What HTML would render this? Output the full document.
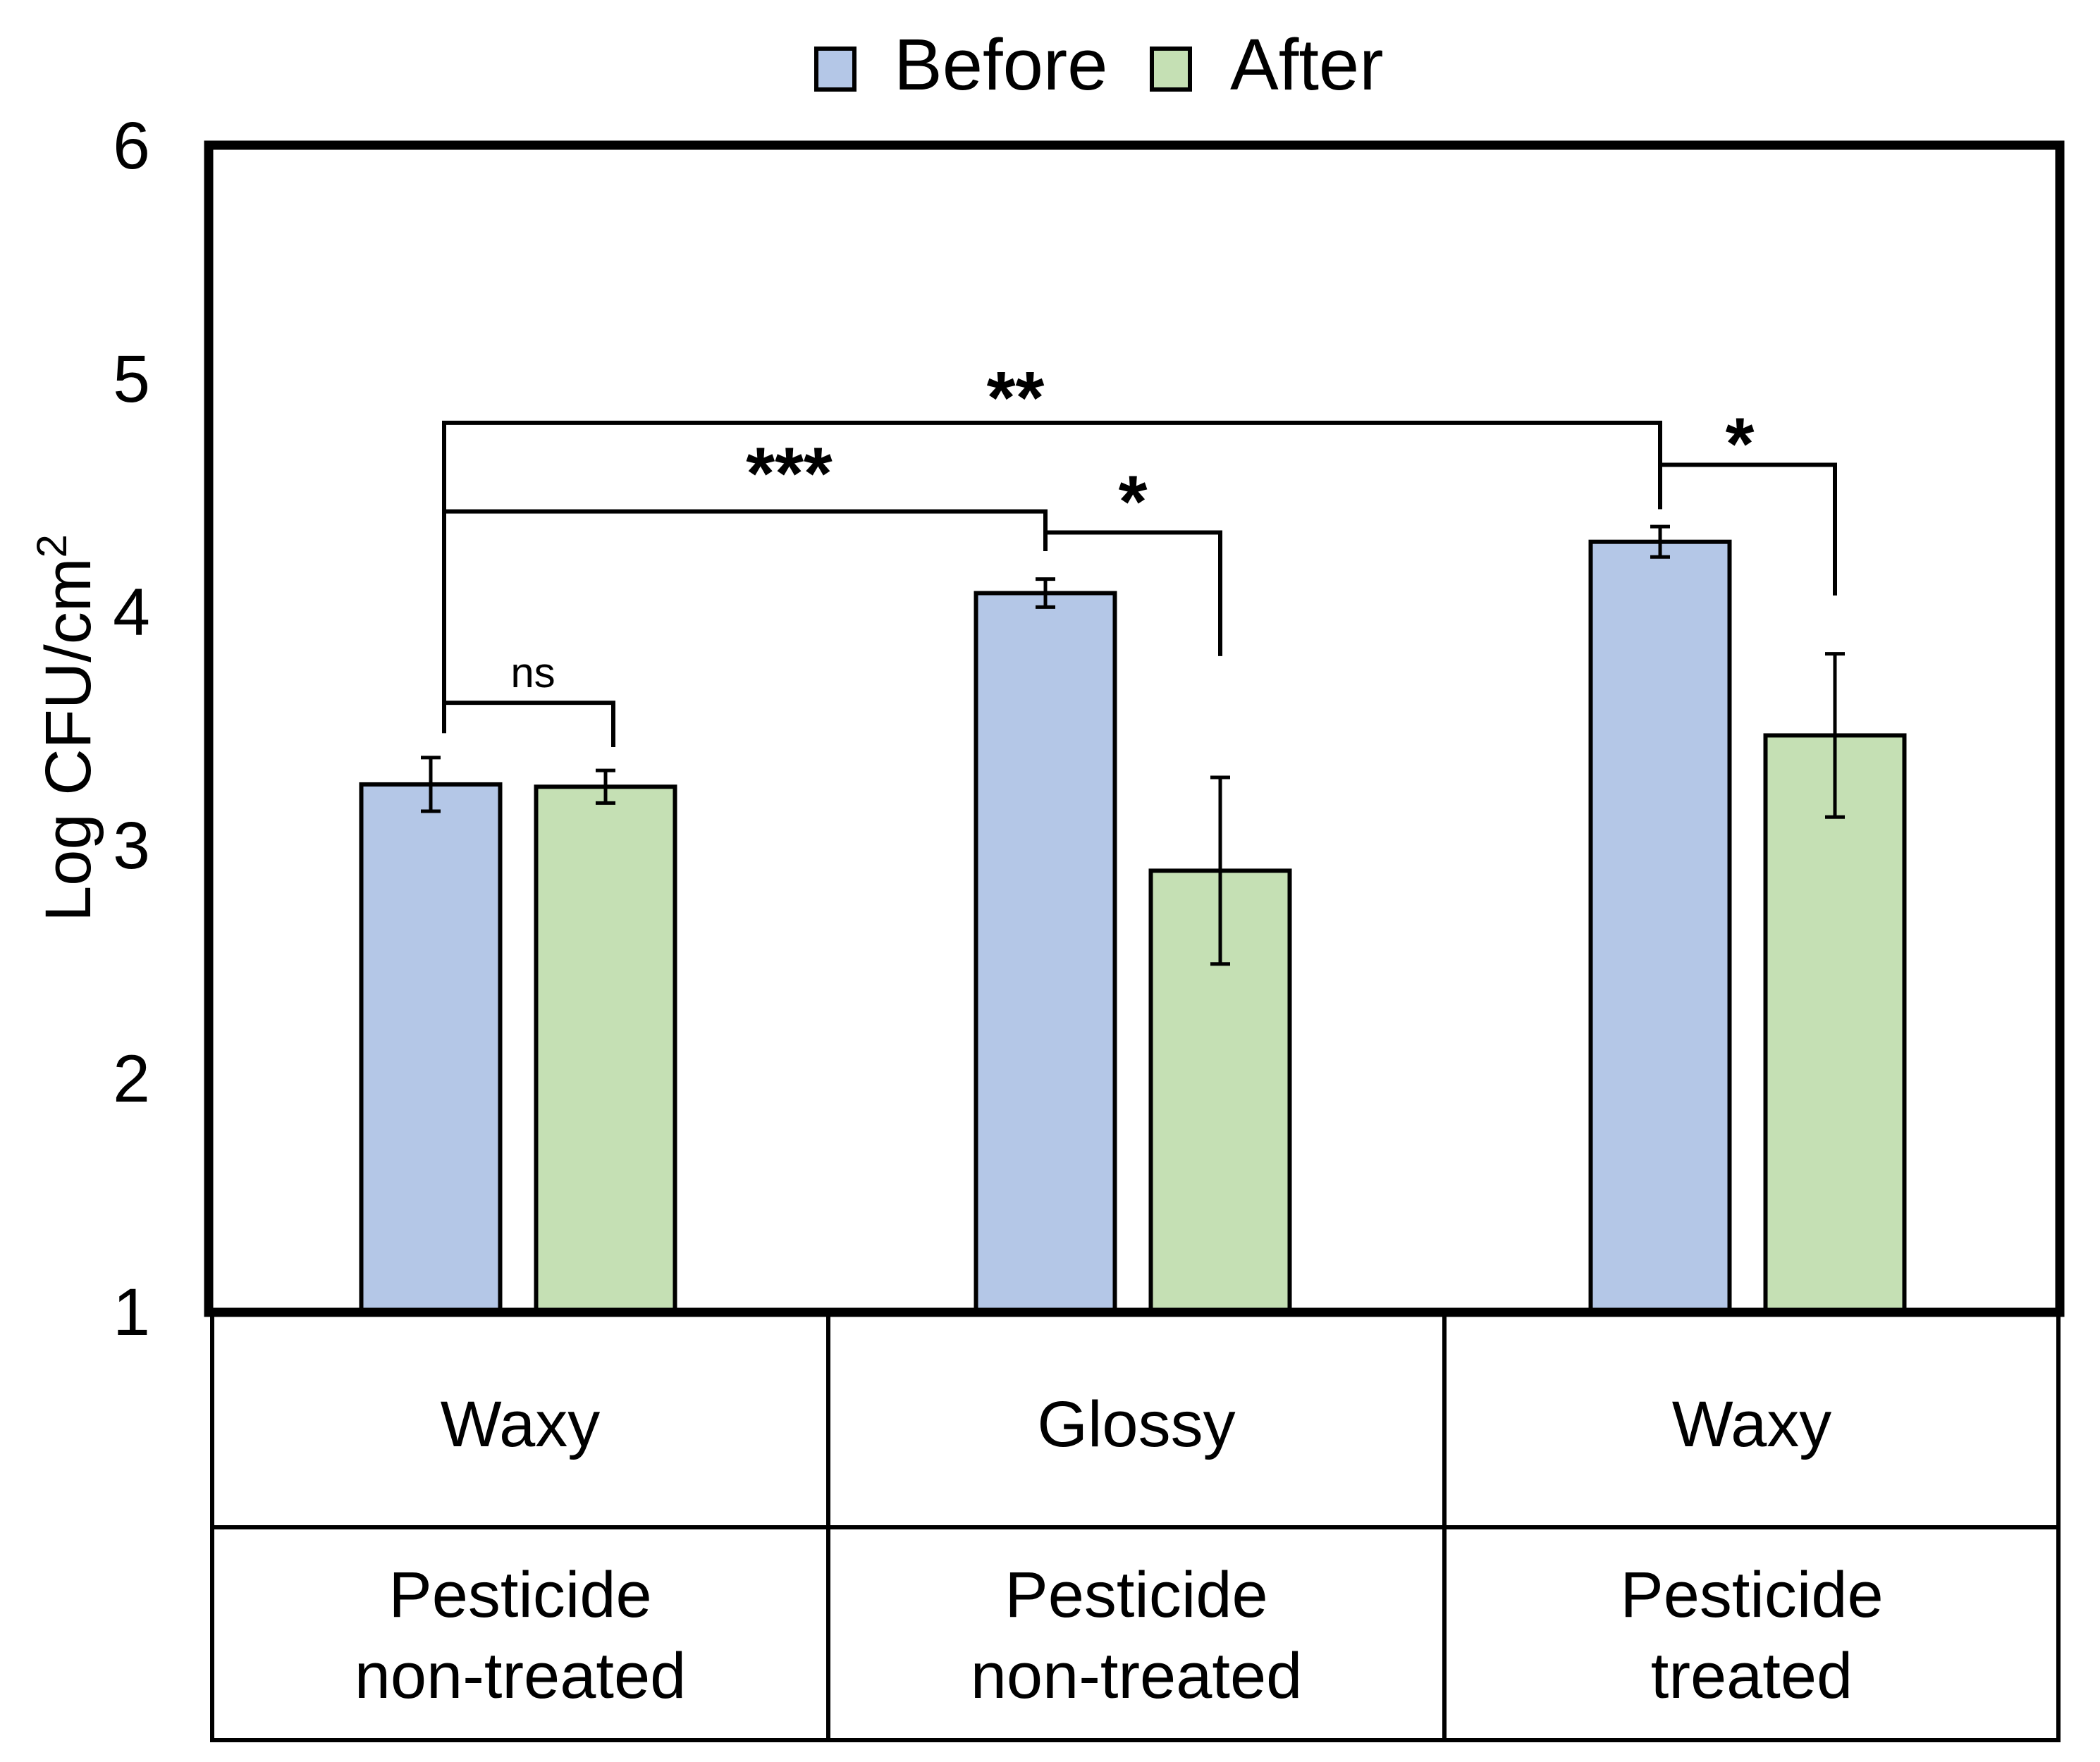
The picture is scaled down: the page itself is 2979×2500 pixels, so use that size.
<!DOCTYPE html>
<html><head><meta charset="utf-8"><style>
html,body{margin:0;padding:0;background:#fff;}
svg{display:block;font-family:"Liberation Sans",Arial,sans-serif;}
</style></head><body>
<svg id="chart" width="2979" height="2500" viewBox="0 0 2979 2500" xmlns="http://www.w3.org/2000/svg">
<g id="legend">
  <rect x="1158" y="69" width="54" height="58" fill="#b4c7e7" stroke="#000" stroke-width="6"/>
  <text x="1268" y="127" font-size="103">Before</text>
  <rect x="1634" y="69" width="54" height="58" fill="#c5e0b4" stroke="#000" stroke-width="6"/>
  <text x="1745" y="127" font-size="103">After</text>
</g>
<text transform="translate(128,1033) rotate(-90)" text-anchor="middle" font-size="92">Log CFU/cm<tspan font-size="60" dy="-34">2</tspan></text>
<g id="yticks"></g>
<g id="bars"></g>
<g id="sig"></g>
<rect x="296" y="206" width="2626" height="1656" fill="none" stroke="#000" stroke-width="13"/>
<g id="table" stroke="#000" stroke-width="6" fill="none">
  <line x1="301" y1="1862" x2="301" y2="2469"/>
  <line x1="1175" y1="1862" x2="1175" y2="2469"/>
  <line x1="2049" y1="1862" x2="2049" y2="2469"/>
  <line x1="2920" y1="1862" x2="2920" y2="2469"/>
  <line x1="301" y1="2167" x2="2920" y2="2167"/>
  <line x1="298" y1="2469" x2="2923" y2="2469"/>
</g>
<g id="tabletext" font-size="92" text-anchor="middle"></g>
</svg>
<script>
const categories = ["Waxy", "Glossy", "Waxy"];
const treatments = [["Pesticide", "non-treated"], ["Pesticide", "non-treated"], ["Pesticide", "treated"]];
const beforeValues = [3.26, 4.08, 4.30];
const afterValues = [3.25, 2.89, 3.47];
const beforeErr = [0.115, 0.06, 0.065];
const afterErr = [0.07, 0.40, 0.35];
const yTicks = [1, 2, 3, 4, 5, 6];
const yTickLabels = ["1", "2", "3", "4", "5", "6"];
const bracketLevels = [4.81, 4.43, 4.34, 4.63, 3.61];
const bracketLabels = ["**", "***", "*", "*", "ns"];

const SVGNS = "http://www.w3.org/2000/svg";
const Y0 = 1861, PX = 331;
function yScale(v){ return Y0 - (v - 1) * PX; }
const GX0 = 735, GSTEP = 876 - 4, BW = 197, OFF = 124;
function groupX(i){ return GX0 + i * GSTEP; }
function barX(i, s){ return groupX(i) + (s === 0 ? -OFF : OFF); }
function mk(tag, attrs, parent){ const e = document.createElementNS(SVGNS, tag); for (const k in attrs) e.setAttribute(k, attrs[k]); parent.appendChild(e); return e; }

const yt = document.getElementById("yticks");
yTicks.forEach((t, i) => {
  const e = mk("text", {x: 213, y: yScale(t) + 33, "text-anchor": "end", "font-size": 95}, yt);
  e.textContent = yTickLabels[i];
  
  
});

const barsG = document.getElementById("bars");
[[beforeValues, beforeErr, "#b4c7e7"], [afterValues, afterErr, "#c5e0b4"]].forEach(([vals, errs, col], s) => {
  vals.forEach((v, i) => {
    const cx = barX(i, s);
    const r = mk("rect", {x: cx - BW/2, y: yScale(v), width: BW, height: yScale(1) - yScale(v), fill: col, stroke: "#000", "stroke-width": 6}, barsG);
    
    
    const hi = yScale(v + errs[i]), lo = yScale(v - errs[i]);
    const g = mk("g", {stroke: "#000", "stroke-width": 5}, barsG);
    
    
    mk("line", {x1: cx, y1: hi, x2: cx, y2: lo}, g);
    mk("line", {x1: cx - 14, y1: hi, x2: cx + 14, y2: hi}, g);
    mk("line", {x1: cx - 14, y1: lo, x2: cx + 14, y2: lo}, g);
  });
});

const sigG = document.getElementById("sig");
// [fromGroup, fromSeries, toGroup, toSeries, levelIndex, leftLegEnd, rightLegEnd, labelDx, labelDy]
const brackets = [
  [0, 0, 2, 0, 0, 3.48, 4.44, -52, 0],
  [0, 0, 1, 0, 1, 3.48, 4.26, 63, -18],
  [1, 0, 1, 1, 2, 4.26, 3.81, 0, -8],
  [2, 0, 2, 1, 3, 4.44, 4.07, -11, 6],
  [0, 0, 0, 1, 4, 3.48, 3.42, 6, -22]
];
brackets.forEach(b => {
  const x1 = barX(b[0], b[1]) + (b[0] === 0 ? 19 : 0), x2 = barX(b[2], b[3]) + (b[4] === 4 ? 11 : 0);
  const lv = bracketLevels[b[4]];
  const p = mk("path", {d: `M${x1},${yScale(b[5])} V${yScale(lv)} H${x2} V${yScale(b[6])}`, fill: "none", stroke: "#000", "stroke-width": 6}, sigG);
  
  
  const lab = bracketLabels[b[4]];
  const t = mk("text", {x: (x1 + x2) / 2 + b[7], y: yScale(lv) + b[8], "text-anchor": "middle", "font-size": lab === "ns" ? 60 : 105, "font-weight": lab === "ns" ? "normal" : "bold"}, sigG);
  t.textContent = lab;
  
  
});

const tt = document.getElementById("tabletext");
const colCenters = [738, 1612, 2485];
categories.forEach((c, i) => {
  const t = mk("text", {x: colCenters[i], y: 2052}, tt);
  t.textContent = c;
  
  
  treatments[i].forEach((line, j) => {
    const u = mk("text", {x: colCenters[i], y: 2294 + j * 115}, tt);
    u.textContent = line;
    
    
  });
});
</script>
</body></html>
